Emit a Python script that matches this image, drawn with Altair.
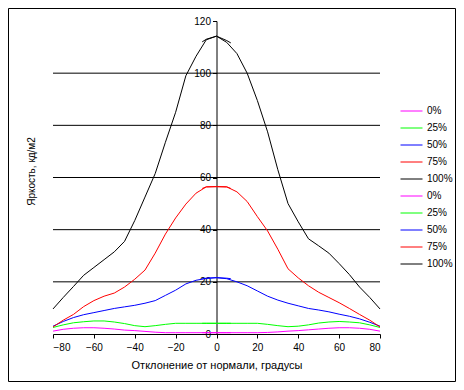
import altair as alt
import pandas as pd

# Viewing angle (degrees) for the two measured halves
x_left = [-80, -75, -70, -65, -60, -55, -50, -45, -40, -35, -30, -25, -20, -15, -10, -5, 0, 5, 7]
x_right = [-7, -5, 0, 5, 10, 15, 20, 25, 30, 35, 40, 45, 50, 55, 60, 65, 70, 75, 80]

# Luminance, cd/m2
black_left = [9.6, 14, 18.2, 22.5, 25.5, 28.5, 31.5, 35.5, 43.5, 52.5, 61.5, 73.5, 85, 99, 106.5, 112.8, 114.2, 112.5, 111.6]
black_right = [112, 113, 114.2, 111.8, 107.5, 100, 89.5, 77.5, 63, 50, 43, 36.5, 33.8, 31, 27, 22.8, 18, 14, 9.6]
red_left = [2.7, 5.3, 7.5, 10.5, 12.8, 14.5, 15.7, 18, 21, 24.5, 31, 38.3, 44.5, 49.8, 54, 56.4, 56.5, 56.4, 55.8]
red_right = [55.8, 56.4, 56.5, 56.4, 54.5, 50.8, 45, 39.5, 32.5, 25, 21.5, 18.5, 16, 14, 12, 9.8, 7.5, 5.3, 2.7]
blue_left = [3, 4.8, 6.3, 7.4, 8.2, 9, 9.8, 10.4, 11, 11.8, 12.8, 14.8, 16.8, 19.2, 20.6, 21.3, 21.6, 21.4, 21.2]
blue_right = [21.2, 21.4, 21.6, 21.2, 20, 18.5, 16.5, 14.5, 13, 11.8, 10.8, 9.8, 9.2, 8.5, 7.6, 6.8, 5.8, 4.5, 3]
green_left = [2.5, 3.5, 4.3, 4.7, 5, 5, 4.6, 4, 3.2, 2.8, 3.2, 3.7, 4.1, 4.1, 4.1, 4.1, 4.1, 4.1, 4.1]
green_right = [4.1, 4.1, 4.1, 4.1, 4.1, 4.1, 4.1, 3.7, 3.2, 2.8, 3, 3.5, 4.2, 4.6, 4.8, 4.6, 4.3, 3.5, 2.5]
mag_left = [1.1, 1.8, 2.2, 2.4, 2.4, 2.2, 1.9, 1.5, 1.3, 1.0, 0.7, 0.5, 0.5, 0.5, 0.5, 0.5, 0.5, 0.5, 0.5]
mag_right = [0.5, 0.5, 0.5, 0.5, 0.5, 0.5, 0.5, 0.6, 0.8, 1.1, 1.3, 1.6, 1.9, 2.2, 2.4, 2.4, 2.2, 1.8, 1.1]

levels = ["0%", "25%", "50%", "75%", "100%"]
colors = ["#FF00FF", "#00FF00", "#0000FF", "#FF0000", "#000000"]
grid_values = [20, 40, 60, 80, 100]
x_ticks = [-80, -60, -40, -20, 0, 20, 40, 60, 80]
y_ticks = [0, 20, 40, 60, 80, 100, 120]

left_sets = [mag_left, green_left, blue_left, red_left, black_left]
right_sets = [mag_right, green_right, blue_right, red_right, black_right]

rows = []
names = []
for lvl, ys in zip(levels, left_sets):
    names.append(lvl)
    for x, y in zip(x_left, ys):
        rows.append({"x": x, "y": y, "s": lvl})
for lvl, ys in zip(levels, right_sets):
    nm = lvl + " "
    names.append(nm)
    for x, y in zip(x_right, ys):
        rows.append({"x": x, "y": y, "s": nm})
df = pd.DataFrame(rows)

FONT = "Liberation Sans"
W, H = 327, 313

xscale = alt.Scale(domain=[-80, 80], nice=False, zero=False)
yscale = alt.Scale(domain=[0, 120], nice=False)

grid = alt.Chart(pd.DataFrame({"g": grid_values})).mark_rule(
    color="black", strokeWidth=1
).encode(
    y=alt.Y("g:Q", scale=yscale),
    x=alt.datum(-80),
    x2=alt.datum(80),
)

lines = alt.Chart(df).mark_line(strokeWidth=1).encode(
    x=alt.X(
        "x:Q",
        scale=xscale,
        axis=alt.Axis(
            values=x_ticks,
            title="Отклонение от нормали, градусы",
            titleFontSize=11,
            titleFontWeight="normal",
            titleFont=FONT,
            titleColor="black",
            titleY=25,
            labelFont=FONT,
            labelFontSize=10,
            labelColor="black",
            labelPadding=4,
            tickSize=4,
            tickColor="black",
            domainColor="black",
            grid=False,
        ),
    ),
    y=alt.Y(
        "y:Q",
        scale=yscale,
        axis=alt.Axis(
            values=y_ticks,
            offset=-163.5,
            title="Яркость, кд/м2",
            titleFontSize=10,
            titleFontWeight="normal",
            titleFont=FONT,
            titleColor="black",
            titleX=-180,
            titleY=150,
            labelFont=FONT,
            labelFontSize=10,
            labelColor="black",
            labelPadding=2,
            tickSize=4,
            tickColor="black",
            domainColor="black",
            grid=False,
        ),
    ),
    color=alt.Color(
        "s:N",
        scale=alt.Scale(domain=names, range=colors + colors),
        legend=alt.Legend(
            title=None,
            orient="none",
            legendX=347,
            legendY=82.5,
            symbolType="stroke",
            symbolSize=484,
            symbolStrokeWidth=1,
            clipHeight=15,
            rowPadding=2,
            labelFont=FONT,
            labelFontSize=10,
            labelColor="black",
            labelOffset=4,
            padding=0,
        ),
    ),
)

frame = alt.Chart(pd.DataFrame({"f": [0]})).mark_rect(
    fillOpacity=0, stroke="black", strokeWidth=1
).encode(
    x=alt.value(-44.5),
    x2=alt.value(402.5),
    y=alt.value(-12.5),
    y2=alt.value(360.5),
)

chart = alt.layer(grid, lines, frame).properties(
    width=W,
    height=H,
    autosize=alt.AutoSizeParams(type="none"),
    padding={"left": 45, "top": 13, "right": 76, "bottom": 48},
    background="white",
).configure_view(strokeWidth=0)

chart.save("out.html", embed_options={"renderer": "svg", "actions": False})
